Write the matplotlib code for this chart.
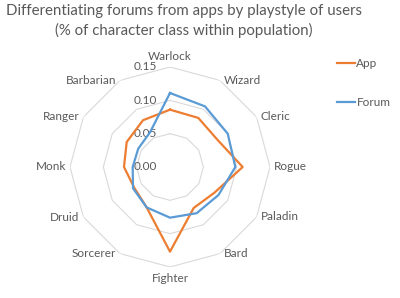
import numpy as np
import matplotlib
matplotlib.use("Agg")
import matplotlib.pyplot as plt

plt.rcParams['font.family'] = ['Lato', 'DejaVu Sans']

categories = ['Warlock', 'Wizard', 'Cleric', 'Rogue', 'Paladin', 'Bard',
              'Fighter', 'Sorcerer', 'Druid', 'Monk', 'Ranger', 'Barbarian']
app = [0.086, 0.085, 0.082, 0.109, 0.077, 0.071, 0.127, 0.070, 0.062, 0.069, 0.075, 0.081]
forum = [0.111, 0.105, 0.100, 0.098, 0.084, 0.080, 0.076, 0.070, 0.064, 0.056, 0.055, 0.060]
rticks = [0.00, 0.05, 0.10, 0.15]
rtick_labels = ['0.00', '0.05', '0.10', '0.15']
series_names = ['App', 'Forum']
title = 'Differentiating forums from apps by playstyle of users\n(% of character class within population)'

TXT = '#595959'
GRID = '#D9D9D9'
C_APP = '#ED7D31'
C_FORUM = '#5B9BD5'

W, H = 400, 298
fig = plt.figure(figsize=(W / 100, H / 100), dpi=100)
cx, cy, R = 170, 167, 100
ax = fig.add_axes([(cx - R) / W, (H - cy - R) / H, 2 * R / W, 2 * R / H], projection='polar')
ax.set_theta_zero_location('N')
ax.set_theta_direction(-1)
ax.set_ylim(0, rticks[-1])
ax.grid(False)
ax.spines['polar'].set_visible(False)
ax.set_xticks([])
ax.set_yticks([])
ax.patch.set_alpha(0)

n = len(categories)
theta = np.arange(n) * 2 * np.pi / n
tc = np.append(theta, theta[0])

for r in rticks[1:]:
    ax.plot(tc, [r] * (n + 1), color=GRID, lw=0.8, zorder=1)

for vals, col, name in [(app, C_APP, series_names[0]), (forum, C_FORUM, series_names[1])]:
    ax.plot(tc, list(vals) + [vals[0]], color=col, lw=1.6, zorder=3, label=name)

# radial tick labels
for r, lab in zip(rticks, rtick_labels):
    ax.annotate(lab, xy=(0, r), xytext=(-13, 0), textcoords='offset pixels',
                ha='right', va='center', fontsize=8.5, color=TXT, zorder=2)

# category labels
for t, lab in zip(theta, categories):
    s, c = np.sin(t), np.cos(t)
    if abs(s) < 1e-6:
        ha = 'center'
    elif s > 0:
        ha = 'left'
    else:
        ha = 'right'
    dx = 4 * np.sign(s) if abs(s) > 1e-6 else 0
    dy = 0
    if abs(s) < 1e-6:
        dy = 10 if c > 0 else -11
    ax.annotate(lab, xy=(t, rticks[-1]), xytext=(dx, dy), textcoords='offset pixels',
                ha=ha, va='center', fontsize=8.5, color=TXT, annotation_clip=False)

fig.text(184 / W, 1 - 21 / H, title, ha='center', va='center', fontsize=10.8,
         color=TXT, linespacing=1.35)

leg = fig.legend(loc='upper left', bbox_to_anchor=(331 / W, 1 - 52 / H), frameon=False,
                 fontsize=8.5, labelspacing=2.35, handlelength=1.5, handletextpad=0.15,
                 labelcolor=TXT, borderpad=0)

fig.savefig('out.png', dpi=100)
